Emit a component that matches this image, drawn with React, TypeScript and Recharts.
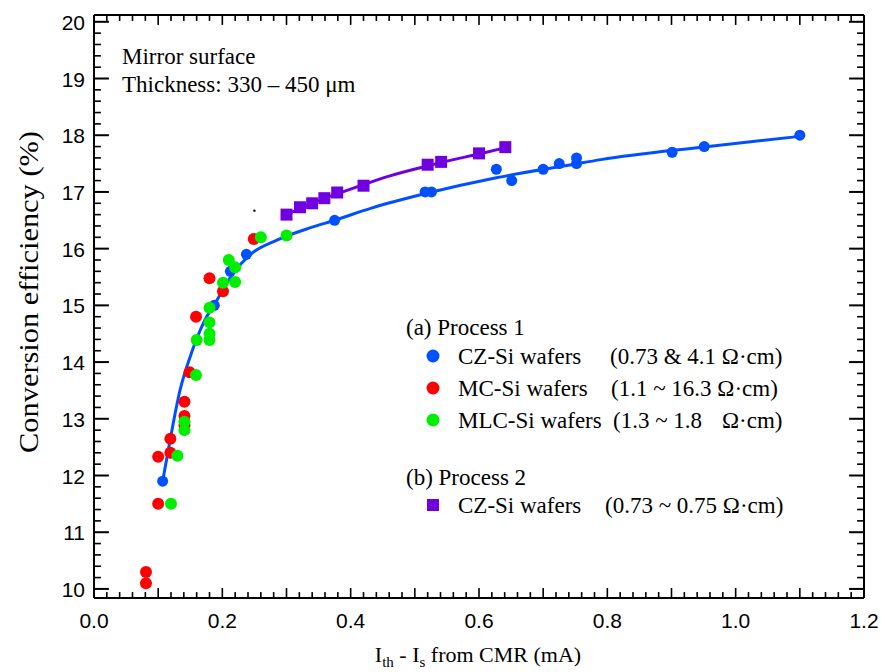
import React from 'react';
import { ComposedChart, Scatter, Line, XAxis, YAxis } from 'recharts';

// Process 1, CZ-Si wafers (blue dots)
const czSiP1 = [
  { x: 0.107, y: 11.9 }, { x: 0.1875, y: 15.0 }, { x: 0.2125, y: 15.6 }, { x: 0.2375, y: 15.9 },
  { x: 0.375, y: 16.5 }, { x: 0.516, y: 17.0 }, { x: 0.526, y: 17.0 }, { x: 0.627, y: 17.4 },
  { x: 0.651, y: 17.2 }, { x: 0.7, y: 17.4 }, { x: 0.725, y: 17.5 }, { x: 0.752, y: 17.6 },
  { x: 0.752, y: 17.5 }, { x: 0.901, y: 17.7 }, { x: 0.951, y: 17.8 }, { x: 1.1, y: 18.0 },
];

// Process 1, MC-Si wafers (red dots)
const mcSiP1 = [
  { x: 0.081, y: 10.3 }, { x: 0.081, y: 10.1 }, { x: 0.1, y: 11.5 }, { x: 0.1, y: 12.33 },
  { x: 0.119, y: 12.4 }, { x: 0.119, y: 12.65 }, { x: 0.141, y: 12.88 }, { x: 0.141, y: 13.05 },
  { x: 0.141, y: 13.3 }, { x: 0.149, y: 13.82 }, { x: 0.159, y: 14.8 }, { x: 0.18, y: 15.48 },
  { x: 0.201, y: 15.25 }, { x: 0.249, y: 16.17 },
];

// Process 1, MLC-Si wafers (green dots)
const mlcSiP1 = [
  { x: 0.12, y: 11.5 }, { x: 0.13, y: 12.35 }, { x: 0.141, y: 12.8 }, { x: 0.141, y: 12.95 },
  { x: 0.159, y: 13.77 }, { x: 0.16, y: 14.39 }, { x: 0.18, y: 14.39 }, { x: 0.18, y: 14.5 },
  { x: 0.18, y: 14.7 }, { x: 0.18, y: 14.96 }, { x: 0.201, y: 15.4 }, { x: 0.22, y: 15.41 },
  { x: 0.21, y: 15.8 }, { x: 0.22, y: 15.67 }, { x: 0.26, y: 16.2 }, { x: 0.3, y: 16.23 },
];

// Process 2, CZ-Si wafers (purple squares)
const czSiP2 = [
  { x: 0.3, y: 16.6 }, { x: 0.321, y: 16.73 }, { x: 0.34, y: 16.8 }, { x: 0.359, y: 16.89 },
  { x: 0.379, y: 16.99 }, { x: 0.42, y: 17.11 }, { x: 0.52, y: 17.48 }, { x: 0.541, y: 17.53 },
  { x: 0.6, y: 17.68 }, { x: 0.641, y: 17.79 },
];

// fitted curves
const fitP1 = [
  { x: 0.107, y: 11.9 }, { x: 0.119, y: 12.65 }, { x: 0.134, y: 13.5 }, { x: 0.15, y: 14.1 },
  { x: 0.171, y: 14.7 }, { x: 0.192, y: 15.1 }, { x: 0.218, y: 15.58 }, { x: 0.244, y: 15.9 },
  { x: 0.285, y: 16.15 }, { x: 0.3375, y: 16.37 }, { x: 0.375, y: 16.5 }, { x: 0.431, y: 16.71 },
  { x: 0.52, y: 16.98 }, { x: 0.627, y: 17.25 }, { x: 0.744, y: 17.48 }, { x: 0.79, y: 17.57 },
  { x: 0.947, y: 17.79 }, { x: 1.1, y: 17.98 },
];
const fitP2 = [
  { x: 0.3, y: 16.6 }, { x: 0.34, y: 16.8 }, { x: 0.38, y: 16.97 }, { x: 0.42, y: 17.13 },
  { x: 0.46, y: 17.28 }, { x: 0.52, y: 17.46 }, { x: 0.56, y: 17.57 }, { x: 0.6, y: 17.67 },
  { x: 0.641, y: 17.78 },
];

const strayMark = [{ x: 0.25, y: 16.67 }];

const xMajorTicks = [0, 0.2, 0.4, 0.6, 0.8, 1.0, 1.2];
const xTickLabels = ['0.0', '0.2', '0.4', '0.6', '0.8', '1.0', '1.2'];
const yMajorTicks = [10, 11, 12, 13, 14, 15, 16, 17, 18, 19, 20];
const yTickLabels = ['10', '11', '12', '13', '14', '15', '16', '17', '18', '19', '20'];

const X_DOMAIN = [0, 1.2];
const Y_DOMAIN = [9.84, 20.12];

// tick positions: x every 0.02 (longer every 0.1), y every 0.2 (longer every 1)
const xTicks = Array.from({ length: 61 }, (_, i) => Math.round(i * 2) / 100);
const yTicks = Array.from({ length: 51 }, (_, i) => Math.round((10 + i * 0.2) * 10) / 10);

const near = (a: number, b: number) => Math.abs(a - b) < 1e-6;
const isTenth = (v: number) => near(v * 10, Math.round(v * 10));
const isInt = (v: number) => near(v, Math.round(v));

// tick marks are scatter marks set a hair inside the frame (points on the
// domain edge get dropped); the shapes below reach back out to the frame
const X_IN = 0.005;
const Y_IN = 0.05;
const X_IN_PX = 3.3;
const Y_IN_PX = 2.9;
const xInner = xTicks.slice(1, -1);
const xLong = xInner.filter(isTenth);
const xShort = xInner.filter(v => !isTenth(v));
const yLong = yTicks.filter(isInt);
const yShort = yTicks.filter(v => !isInt(v));
const bottomLong = xLong.map(v => ({ x: v, y: Y_DOMAIN[0] + Y_IN }));
const bottomShort = xShort.map(v => ({ x: v, y: Y_DOMAIN[0] + Y_IN }));
const topLong = xLong.map(v => ({ x: v, y: Y_DOMAIN[1] - Y_IN }));
const topShort = xShort.map(v => ({ x: v, y: Y_DOMAIN[1] - Y_IN }));
const leftLong = yLong.map(v => ({ x: X_DOMAIN[0] + X_IN, y: v }));
const leftShort = yShort.map(v => ({ x: X_DOMAIN[0] + X_IN, y: v }));
const rightLong = yLong.map(v => ({ x: X_DOMAIN[1] - X_IN, y: v }));
const rightShort = yShort.map(v => ({ x: X_DOMAIN[1] - X_IN, y: v }));

const BLUE = '#0050ff';
const RED = '#ff0000';
const GREEN = '#00ee00';
const PURPLE = '#7000e0';
const SANS = '"Liberation Sans", Arial, sans-serif';
const SERIF = '"Liberation Serif", "Times New Roman", serif';

function BottomLabel(props: any) {
  const { x, y, payload } = props;
  const idx = xMajorTicks.findIndex(t => near(t, payload.value));
  if (idx < 0) return <g />;
  return (
    <text x={x} y={y + 30} textAnchor="middle" fontSize={21} fontFamily={SANS} fill="#000">
      {xTickLabels[idx]}
    </text>
  );
}

function LeftLabel(props: any) {
  const { x, y, payload } = props;
  const idx = yMajorTicks.findIndex(t => near(t, payload.value));
  if (idx < 0) return <g />;
  return (
    <text x={x - 9} y={y + 8} textAnchor="end" fontSize={21} fontFamily={SANS} fill="#000">
      {yTickLabels[idx]}
    </text>
  );
}

// bottom axis ticks grow upward from the frame, top axis ticks downward
const bottomTick = (len: number) => (p: any) => (
  <rect x={p.cx - 0.8} y={p.cy + Y_IN_PX - len} width={1.6} height={len} fill="#000" />
);
const topTick = (len: number) => (p: any) => (
  <rect x={p.cx - 0.8} y={p.cy - Y_IN_PX} width={1.6} height={len} fill="#000" />
);
// left axis ticks grow right, right axis ticks grow left
const leftTick = (len: number, w: number) => (p: any) => (
  <rect x={p.cx - X_IN_PX} y={p.cy - w / 2} width={len} height={w} fill="#000" />
);
const rightTick = (len: number, w: number) => (p: any) => (
  <rect x={p.cx + X_IN_PX - len} y={p.cy - w / 2} width={len} height={w} fill="#000" />
);

const dot = (color: string, r: number) => (p: any) => <circle cx={p.cx} cy={p.cy} r={r} fill={color} />;
const square = (p: any) => <rect x={p.cx - 6} y={p.cy - 6} width={12} height={12} fill={PURPLE} />;

const axisLine = { stroke: '#000', strokeWidth: 2 };

const tickSeries: [any[], (p: any) => React.ReactElement][] = [
  [bottomLong, bottomTick(10)],
  [bottomShort, bottomTick(6)],
  [topLong, topTick(10)],
  [topShort, topTick(6)],
  [leftLong, leftTick(15, 2)],
  [leftShort, leftTick(7, 1.6)],
  [rightLong, rightTick(15, 2)],
  [rightShort, rightTick(7, 1.6)],
];

export default function App() {
  return (
    <div style={{ position: 'absolute', left: 0, top: 0, width: 882, height: 672, background: '#fff' }}>
      <ComposedChart
        width={882}
        height={672}
        margin={{ top: 14, right: 17, bottom: 0, left: 0 }}
      >
        <XAxis
          xAxisId="b"
          dataKey="x"
          type="number"
          domain={X_DOMAIN}
          ticks={xTicks}
          interval={0}
          allowDataOverflow
          height={74}
          tickSize={0}
          tickMargin={0}
          tickLine={false}
          axisLine={axisLine}
          tick={BottomLabel}
        />
        <XAxis
          xAxisId="t"
          orientation="top"
          dataKey="x"
          type="number"
          domain={X_DOMAIN}
          height={1}
          tickLine={false}
          axisLine={axisLine}
          tick={false}
        />
        <YAxis
          yAxisId="l"
          type="number"
          domain={Y_DOMAIN}
          ticks={yTicks}
          interval={0}
          allowDataOverflow
          width={94}
          tickSize={0}
          tickMargin={0}
          tickLine={false}
          axisLine={axisLine}
          tick={LeftLabel}
        />
        <YAxis
          yAxisId="r"
          orientation="right"
          type="number"
          domain={Y_DOMAIN}
          width={1}
          tickLine={false}
          axisLine={axisLine}
          tick={false}
        />
        {tickSeries.map(([data, shape], i) => (
          <Scatter key={`tick${i}`} xAxisId="b" yAxisId="l" data={data} dataKey="y" shape={shape} isAnimationActive={false} />
        ))}

        <Line xAxisId="b" yAxisId="l" data={fitP1} dataKey="y" type="monotone" stroke={BLUE} strokeWidth={3} dot={false} isAnimationActive={false} />
        <Line xAxisId="b" yAxisId="l" data={fitP2} dataKey="y" type="monotone" stroke={PURPLE} strokeWidth={3} dot={false} isAnimationActive={false} />
        <Scatter xAxisId="b" yAxisId="l" data={czSiP1} dataKey="y" shape={dot(BLUE, 5.5)} isAnimationActive={false} />
        <Scatter xAxisId="b" yAxisId="l" data={mcSiP1} dataKey="y" shape={dot(RED, 6)} isAnimationActive={false} />
        <Scatter xAxisId="b" yAxisId="l" data={mlcSiP1} dataKey="y" shape={dot(GREEN, 6)} isAnimationActive={false} />
        <Scatter xAxisId="b" yAxisId="l" data={czSiP2} dataKey="y" shape={square} isAnimationActive={false} />
        <Scatter xAxisId="b" yAxisId="l" data={strayMark} dataKey="y" shape={dot('#000', 1.2)} isAnimationActive={false} />
      </ComposedChart>

      <svg width={882} height={672} style={{ position: 'absolute', left: 0, top: 0, pointerEvents: 'none' }}>
        <g fontFamily={SERIF} fill="#000">
          <text x={28} y={292} fontSize={28} textLength={322} lengthAdjust="spacingAndGlyphs" textAnchor="middle" dominantBaseline="central" transform="rotate(-90 28 292)">
            Conversion efficiency (%)
          </text>
          <text x={478} y={662} fontSize={22} textAnchor="middle">
            I<tspan fontSize={15} dy={5}>th</tspan>
            <tspan dy={-5}> - I</tspan>
            <tspan fontSize={15} dy={5}>s</tspan>
            <tspan dy={-5}> from CMR (mA)</tspan>
          </text>

          <text x={122} y={64} fontSize={23}>Mirror surface</text>
          <text x={122} y={92} fontSize={23}>Thickness: 330 – 450 μm</text>

          <text x={406} y={335} fontSize={23}>(a) Process 1</text>
          <circle cx={433} cy={356} r={6.5} fill={BLUE} />
          <text x={458} y={364} fontSize={23}>CZ-Si wafers</text>
          <text x={610} y={364} fontSize={23}>(0.73 &amp; 4.1 Ω·cm)</text>
          <circle cx={433} cy={388} r={6.5} fill={RED} />
          <text x={458} y={396} fontSize={23}>MC-Si wafers</text>
          <text x={611} y={396} fontSize={23}>(1.1 ~ 16.3 Ω·cm)</text>
          <circle cx={433} cy={420} r={6.5} fill={GREEN} />
          <text x={458} y={428} fontSize={23}>MLC-Si wafers</text>
          <text x={613} y={428} fontSize={23}>(1.3 ~ 1.8</text>
          <text x={722} y={428} fontSize={23}>Ω·cm)</text>

          <text x={406} y={485} fontSize={23}>(b) Process 2</text>
          <rect x={427} y={499} width={12} height={12} fill={PURPLE} />
          <text x={458} y={513} fontSize={23}>CZ-Si wafers</text>
          <text x={605} y={513} fontSize={23}>(0.73 ~ 0.75 Ω·cm)</text>
        </g>
      </svg>
    </div>
  );
}
